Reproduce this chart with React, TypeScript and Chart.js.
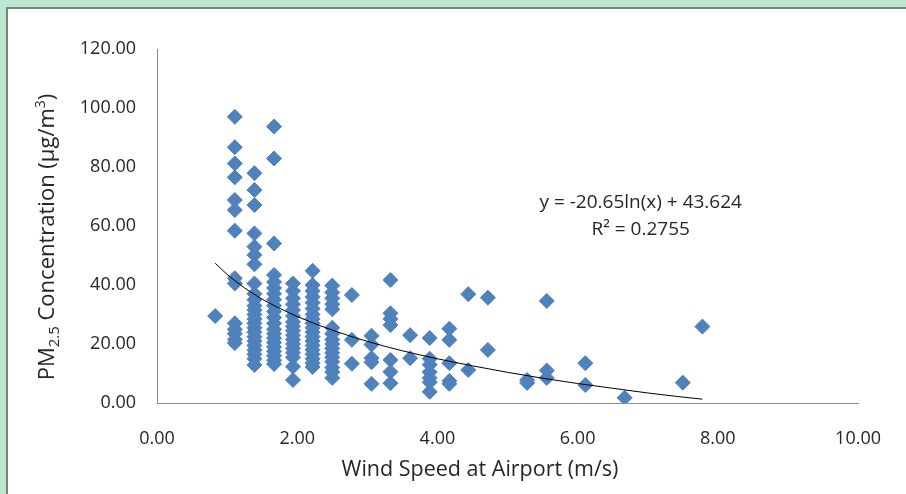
import React, { useEffect, useRef } from "react";
import { Chart, registerables } from "chart.js";

Chart.register(...registerables);

// Wind speed columns (m/s) and PM2.5 values observed at each speed
const speedColumns = [0.83, 1.11, 1.39, 1.67, 1.94, 2.22, 2.5, 2.78, 3.06, 3.33, 3.61, 3.89, 4.17, 4.44, 4.72, 5.28, 5.56, 6.11, 6.67, 7.5, 7.78];

const pmAt083 = [29.5];
const pmAt111 = [97.0, 86.7, 81.2, 76.5, 68.8, 65.4, 58.4, 42.3, 40.5, 27.0, 25.0, 23.5, 21.5, 20.3];
const pmAt139 = [77.9, 72.2, 67.1, 57.5, 53.0, 50.2, 47.0, 40.5, 37.0, 35.0, 33.0, 31.5, 30.0, 28.5, 27.0, 25.5, 24.0, 22.5, 21.0, 19.5, 18.0, 16.5, 15.0, 12.9];
const pmAt167 = [93.7, 82.9, 54.1, 43.4, 41.0, 39.0, 37.0, 35.0, 33.0, 31.0, 29.0, 27.0, 25.0, 23.5, 22.0, 20.5, 19.0, 17.5, 16.0, 14.5, 13.2];
const pmAt194 = [40.5, 38.0, 35.5, 33.5, 31.5, 29.5, 27.5, 26.0, 24.5, 23.0, 21.5, 20.0, 18.5, 17.0, 15.5, 12.3, 7.8];
const pmAt222 = [44.8, 40.0, 38.0, 36.0, 34.0, 32.0, 30.0, 28.5, 27.0, 25.5, 24.0, 22.5, 21.0, 19.5, 18.0, 16.5, 15.0, 13.5, 12.2];
const pmAt250 = [39.8, 37.5, 35.5, 33.5, 31.8, 25.5, 23.5, 21.5, 20.0, 18.5, 17.0, 15.5, 14.0, 12.0, 10.5, 8.5];
const pmAt278 = [36.6, 21.4, 13.3];
const pmAt306 = [22.8, 19.8, 15.2, 13.8, 6.5];
const pmAt333 = [41.7, 30.4, 28.5, 26.4, 14.6, 10.6, 6.7];
const pmAt361 = [23.0, 15.2];
const pmAt389 = [22.0, 15.0, 13.0, 10.5, 8.5, 7.0, 3.8];
const pmAt417 = [25.2, 21.4, 13.5, 7.5, 6.5];
const pmAt444 = [36.9, 11.2];
const pmAt472 = [35.7, 18.0];
const pmAt528 = [7.8, 6.8];
const pmAt556 = [34.6, 11.0, 8.5];
const pmAt611 = [13.5, 6.1];
const pmAt667 = [1.8];
const pmAt750 = [6.9];
const pmAt778 = [25.9];

const pmByColumn = [pmAt083, pmAt111, pmAt139, pmAt167, pmAt194, pmAt222, pmAt250, pmAt278, pmAt306, pmAt333, pmAt361, pmAt389, pmAt417, pmAt444, pmAt472, pmAt528, pmAt556, pmAt611, pmAt667, pmAt750, pmAt778];

// Logarithmic trend line
const trendX = [0.83, 1.0, 1.25, 1.5, 1.75, 2.0, 2.5, 3.0, 3.5, 4.0, 4.5, 5.0, 5.5, 6.0, 6.5, 7.0, 7.5, 7.78];
const trendY = [47.4, 43.6, 39.0, 35.2, 32.1, 29.3, 24.7, 20.9, 17.7, 15.0, 12.6, 10.4, 8.4, 6.6, 5.0, 3.4, 2.0, 1.3];

const xTicks = [0, 2, 4, 6, 8, 10];
const yTicks = [0, 20, 40, 60, 80, 100, 120];

const equationText = "y = -20.65ln(x) + 43.624";
const rSquaredText = "R² = 0.2755";

const FONT = "'Open Sans', Lato, sans-serif";
const TEXT_COLOR = "#262626";

type Part = { t: string; size: number; dy: number };

function drawRich(ctx: CanvasRenderingContext2D, parts: Part[], cx: number, cy: number, rotate: boolean, baseSize: number) {
  ctx.save();
  ctx.translate(cx, cy);
  if (rotate) ctx.rotate(-Math.PI / 2);
  ctx.fillStyle = TEXT_COLOR;
  ctx.textBaseline = "alphabetic";
  ctx.textAlign = "left";
  let total = 0;
  for (const p of parts) {
    ctx.font = `${p.size}px ${FONT}`;
    total += ctx.measureText(p.t).width;
  }
  let x = -total / 2;
  const base = baseSize * 0.36;
  for (const p of parts) {
    ctx.font = `${p.size}px ${FONT}`;
    ctx.fillText(p.t, x, base + p.dy);
    x += ctx.measureText(p.t).width;
  }
  ctx.restore();
}

const annotationPlugin = {
  id: "annotations",
  afterDraw(chart: any) {
    const ctx = chart.ctx as CanvasRenderingContext2D;
    const xs = chart.scales.x;
    const ys = chart.scales.y;
    // axis titles
    drawRich(ctx, [
      { t: "PM", size: 22, dy: 0 },
      { t: "2.5", size: 15, dy: 5 },
      { t: " Concentration (µg/m", size: 22, dy: 0 },
      { t: "3", size: 14, dy: -9 },
      { t: ")", size: 22, dy: 0 },
    ], 46, 237, true, 22);
    drawRich(ctx, [{ t: "Wind Speed at Airport (m/s)", size: 21.5, dy: 0 }], 480, 468, false, 21.5);
    // equation
    const ex = xs.getPixelForValue(6.9);
    const ey = ys.getPixelForValue(68.5);
    drawRich(ctx, [{ t: equationText, size: 19, dy: 0 }], ex, ey, false, 19);
    drawRich(ctx, [{ t: rSquaredText, size: 19, dy: 0 }], ex, ey + 27, false, 19);
  },
};

export default function App() {
  const canvasRef = useRef<HTMLCanvasElement | null>(null);

  useEffect(() => {
    if (!canvasRef.current) return;
    const points: { x: number; y: number }[] = [];
    speedColumns.forEach((s, i) => {
      pmByColumn[i].forEach((v) => points.push({ x: s, y: v }));
    });
    const trend = trendX.map((x, i) => ({ x, y: trendY[i] }));

    const chart = new Chart(canvasRef.current, {
      type: "scatter",
      data: {
        datasets: [
          {
            type: "line",
            label: "Trend",
            data: trend,
            borderColor: "#000000",
            borderWidth: 1,
            pointRadius: 0,
            fill: false,
            cubicInterpolationMode: "monotone",
          } as any,
          {
            label: "PM2.5",
            data: points,
            pointStyle: "rectRot",
            pointRadius: 7.5,
            pointHoverRadius: 7.5,
            backgroundColor: "#4F81BD",
            borderColor: "#4F81BD",
            borderWidth: 1,
          },
        ],
      },
      options: {
        responsive: false,
        animation: false,
        events: [],
        layout: { padding: { top: 49, right: 45, left: 0, bottom: 0 } },
        plugins: {
          legend: { display: false },
          tooltip: { enabled: false },
          title: { display: false },
        },
        scales: {
          x: {
            type: "linear",
            min: 0,
            max: 10,
            afterFit: (s: any) => { s.height = 91; },
            afterBuildTicks: (s: any) => { s.ticks = xTicks.map((v) => ({ value: v })); },
            grid: { display: false, drawTicks: false },
            border: { display: true, color: "#8C8C8C", width: 1 },
            ticks: {
              padding: 25,
              color: TEXT_COLOR,
              font: { family: FONT, size: 18 },
              callback: (v: any) => Number(v).toFixed(2),
            },
          },
          y: {
            type: "linear",
            min: 0,
            max: 120,
            afterFit: (s: any) => { s.width = 157; },
            afterBuildTicks: (s: any) => { s.ticks = yTicks.map((v) => ({ value: v })); },
            grid: { display: false, drawTicks: false },
            border: { display: true, color: "#8C8C8C", width: 1 },
            ticks: {
              padding: 21,
              color: TEXT_COLOR,
              font: { family: FONT, size: 18 },
              callback: (v: any) => Number(v).toFixed(2),
            },
          },
        },
      },
      plugins: [annotationPlugin],
    });
    return () => chart.destroy();
  }, []);

  return (
    <div style={{ position: "fixed", left: 0, top: 0, width: 906, height: 494, background: "#BCE7D1", overflow: "hidden" }}>
      <div
        style={{
          position: "absolute",
          left: 6,
          top: 7,
          right: -4,
          bottom: -4,
          background: "#FFFFFF",
          borderLeft: "2px solid #7F7F7F",
          borderTop: "2px solid #7F7F7F",
        }}
      />
      <canvas ref={canvasRef} width={906} height={494} style={{ position: "absolute", left: 0, top: 0, width: 906, height: 494 }} />
    </div>
  );
}
